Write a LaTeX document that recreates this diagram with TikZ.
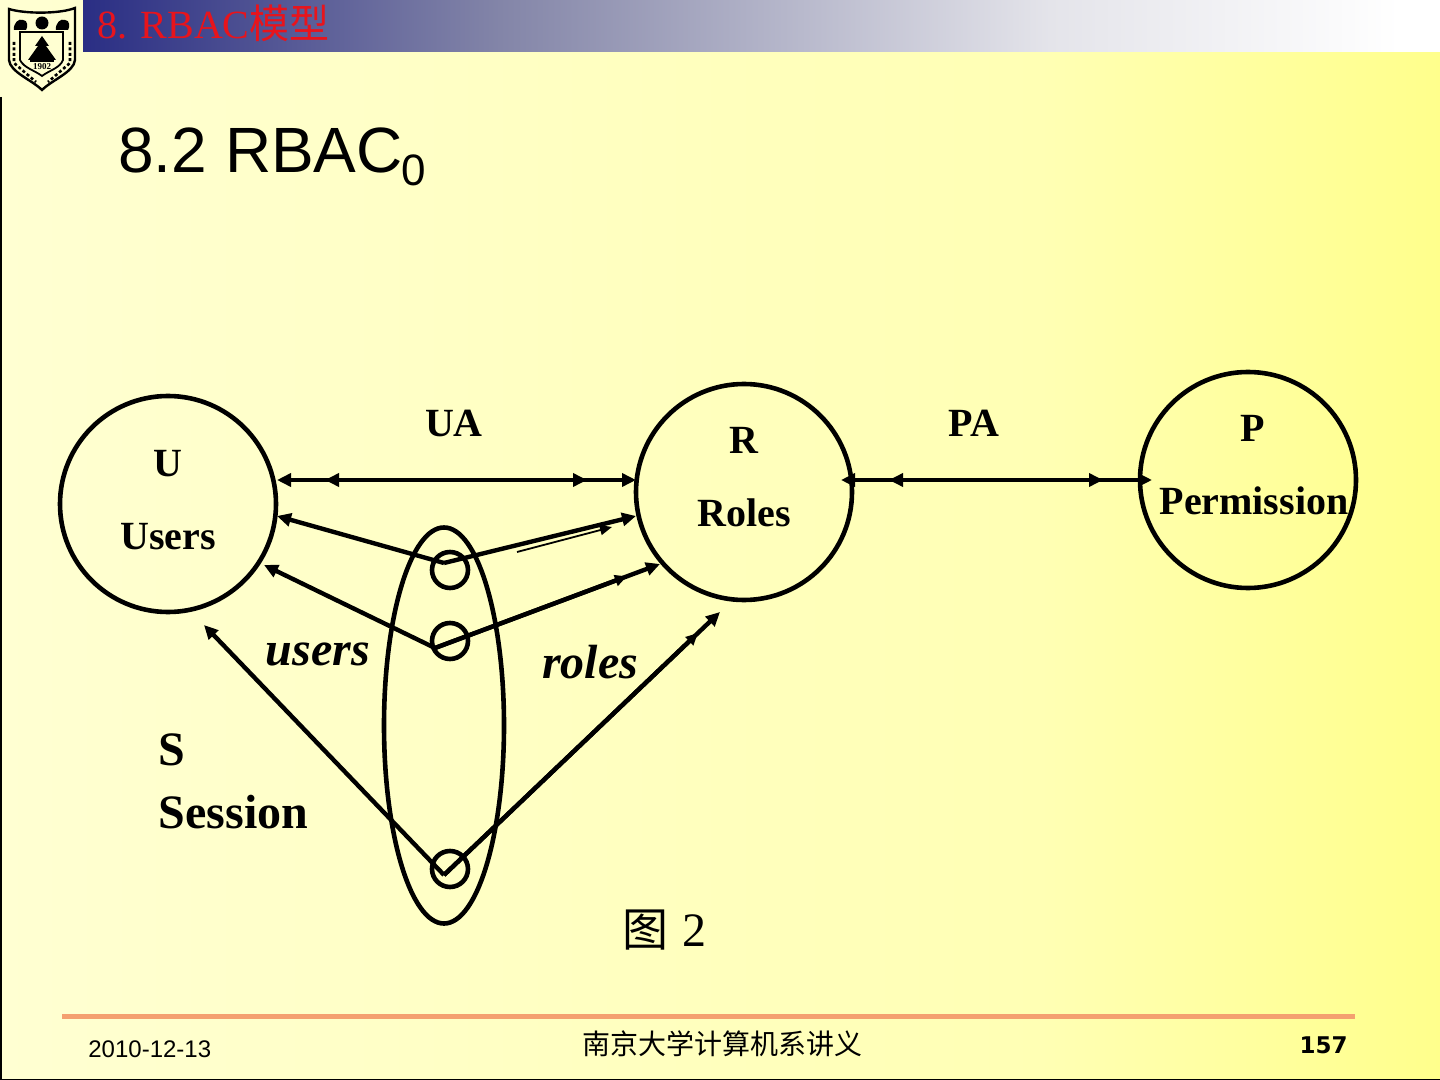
\documentclass[tikz,border=0pt]{standalone}
\usepackage{fontspec}
\usetikzlibrary{arrows.meta,shapes.geometric,calc}
\setmainfont{Liberation Serif}
\setsansfont{Liberation Sans}
\newfontfamily\cjk{Noto Sans CJK SC}
\newfontfamily\djv{DejaVu Sans}
\definecolor{headred}{HTML}{E8141C}
\definecolor{navyb}{HTML}{2A2E84}
\definecolor{navym}{HTML}{8385A8}
\definecolor{navyl}{HTML}{E4E4EA}
\definecolor{footl}{HTML}{F4A070}
\definecolor{bgl}{HTML}{FFFFD2}
\definecolor{bgm}{HTML}{FFFFB4}
\definecolor{bgr}{HTML}{FFFF8C}
\tikzset{
  bigc/.style={circle,draw=black,line width=2.3pt,minimum size=108pt,inner sep=0pt},
  smallc/.style={circle,draw=black,line width=2.3pt,minimum size=18pt,inner sep=0pt},
  sessell/.style={ellipse,draw=black,line width=2.3pt,minimum width=60pt,minimum height=198pt,inner sep=0pt},
  conn/.style={line width=2.2pt,black},
  tip/.style={conn,-{Triangle[length=7pt,width=6.5pt]}},
  tiptwo/.style={conn,{Triangle[length=7pt,width=6.5pt]}-{Triangle[length=7pt,width=6.5pt]}},
  lab/.style={font=\fontsize{20}{24}\selectfont\bfseries,black,inner sep=0pt},
  labbig/.style={font=\fontsize{24}{28}\selectfont\bfseries,black,inner sep=0pt},
  labit/.style={font=\fontsize{24}{28}\selectfont\bfseries\itshape,black,inner sep=0pt},
}
\begin{document}
\begin{tikzpicture}[x=0.5pt,y=-0.5pt]
\useasboundingbox (0,0) rectangle (1440,1080);
% background
\shade[left color=bgl,right color=bgm] (0,0) rectangle (1040,1080);
\shade[left color=bgm,right color=bgr] (1040,0) rectangle (1440,1080);
% header band
\fill[white] (83,0) rectangle (1440,52);
\shade[left color=navyb,right color=navym] (83,0) rectangle (500,52);
\shade[left color=navym,right color=navyl] (499.5,0) rectangle (1050,52);
\shade[left color=navyl,right color=white] (1049.5,0) rectangle (1400,52);
\draw[black,line width=1pt] (0.5,97) -- (0.5,1079.5) -- (1440,1079.5);
\node[anchor=base west,inner sep=0pt,text=headred,font=\fontsize{20}{24}\selectfont] (head) at (97,39) {8. RBAC{\cjk 模型}};
% logo
\draw[black,line width=1.2pt,fill=bgl] (9,9) .. controls (25,14) and (60,14) .. (75,8) -- (75,60) .. controls (74,72) and (52,80) .. (42,90) .. controls (32,80) and (10,72) .. (9,60) -- cycle;
\draw[black,line width=.9pt] (20,32) -- (20,60) .. controls (24,68) and (34,70) .. (42,76) .. controls (50,70) and (60,68) .. (63,60) -- (63,32) -- cycle;
\fill[black] (42,36) -- (49,46) -- (46,46) -- (56,60) -- (28,60) -- (38,46) -- (35,46) -- cycle;
\fill[black] (30,60) rectangle (54,62);
\node[inner sep=0pt,font=\fontsize{4.5}{5}\selectfont\bfseries] (yr) at (42,67) {1902};
\fill[black] (42,23) circle[radius=6.5];
\fill[black] (21,30) -- (14,30) .. controls (13,23) and (19,18) .. (23,20) .. controls (28,20) and (28,27) .. (26,30) -- cycle;
\fill[black] (63,30) -- (56,30) .. controls (55,23) and (61,18) .. (65,20) .. controls (70,20) and (70,27) .. (68,30) -- cycle;
\draw[black,line width=1.3pt,dash pattern=on 1.5pt off 1.2pt] (14,42) -- (14,63) -- (36,82);
\draw[black,line width=1.3pt,dash pattern=on 1.5pt off 1.2pt] (70,42) -- (70,63) -- (48,82);
% title
\node[anchor=base west,inner sep=0pt,font=\sffamily\fontsize{32}{36}\selectfont] (title) at (118,172.5) {8.2 RBAC};
\node[anchor=base west,inner sep=0pt,font=\sffamily\fontsize{22}{26}\selectfont] (titlesub) at (401,186) {0};
% circles
\node[bigc] (U) at (168,504) {};
\node[bigc] (R) at (744,492) {};
\node[bigc] (P) at (1248,480) {};
\node[sessell] (S) at (444,725.5) {};
\node[smallc] (s1) at (450,570) {};
\node[smallc] (s2) at (450,641) {};
\node[smallc] (s3) at (450,869) {};
% labels
\node[lab] (lU) at (168,464) {U};
\node[lab] (lUs) at (168,537) {Users};
\node[lab] (lR) at (744,440) {R};
\node[lab] (lRs) at (744,513) {Roles};
\node[lab] (lP) at (1253,428) {P};
\node[lab] (lPs) at (1254,500.5) {Permission};
\node[lab] (lUA) at (454,423) {UA};
\node[lab] (lPA) at (974,423) {PA};
\node[labit] (lusers) at (318,654) {users};
\node[labit] (lroles) at (590,662) {roles};
\node[labbig,anchor=base west] (lS) at (158.5,765) {S};
\node[labbig,anchor=base west] (lSe) at (158.5,828) {Session};
\node[anchor=base west,inner sep=0pt,font=\fontsize{24}{28}\selectfont] (fig) at (622,946) {{\cjk\fontsize{23}{28}\selectfont 图}\hspace{1pt} 2};
% anchor points
\coordinate (a1) at (277,480); \coordinate (a2) at (325,480);
\coordinate (a3) at (587,480); \coordinate (a4) at (636,480);
\coordinate (b1) at (841,480); \coordinate (b2) at (889,480);
\coordinate (b3) at (1103,480); \coordinate (b4) at (1152,480);
\coordinate (v1) at (444,563);
\coordinate (v1l) at (277,516); \coordinate (v1r) at (636,516);
\coordinate (t1a) at (517,552); \coordinate (t1b) at (612,527);
\coordinate (v2) at (435,648);
\coordinate (v2l) at (264,565); \coordinate (v2r) at (660,564); \coordinate (v2m) at ($(v2)!0.853!(v2r)$);
\coordinate (v3) at (444,875);
\coordinate (v3l) at (204,625); \coordinate (v3r) at (720,612); \coordinate (v3m) at ($(v3)!0.92!(v3r)$);
% connectors
\draw[tiptwo] (a1) -- (a4);
\draw[tiptwo] (a2) -- (a3);
\draw[tiptwo] (b1) -- (b4);
\draw[tiptwo] (b2) -- (b3);
\draw[tip] (v1) -- (v1l);
\draw[tip] (v1) -- (v1r);
\draw[line width=.9pt,black,-{Triangle[length=6pt,width=5pt]}] (t1a) -- (t1b);
\draw[tip] (v2) -- (v2l);
\draw[tip] (v2) -- (v2r);
\draw[conn,-{Triangle[length=6pt,width=5.5pt]}] (v2) -- (v2m);
\draw[tip] (v3) -- (v3l);
\draw[tip] (v3) -- (v3r);
\draw[conn,-{Triangle[length=6pt,width=5.5pt]}] (v3) -- (v3m);
% footer
\draw[footl,line width=2.5pt] (62,1016) -- (1355,1016);
\node[anchor=base west,inner sep=0pt,font=\sffamily\fontsize{12}{14}\selectfont] (date) at (88,1057) {2010-12-13};
\node[anchor=base,inner sep=0pt,font=\cjk\fontsize{14}{17}\selectfont] (foot) at (722,1054) {南京大学计算机系讲义};
\node[anchor=base east,inner sep=0pt,font=\djv\bfseries\fontsize{11.5}{14}\selectfont] (num) at (1348,1053) {157};
\end{tikzpicture}
\end{document}
